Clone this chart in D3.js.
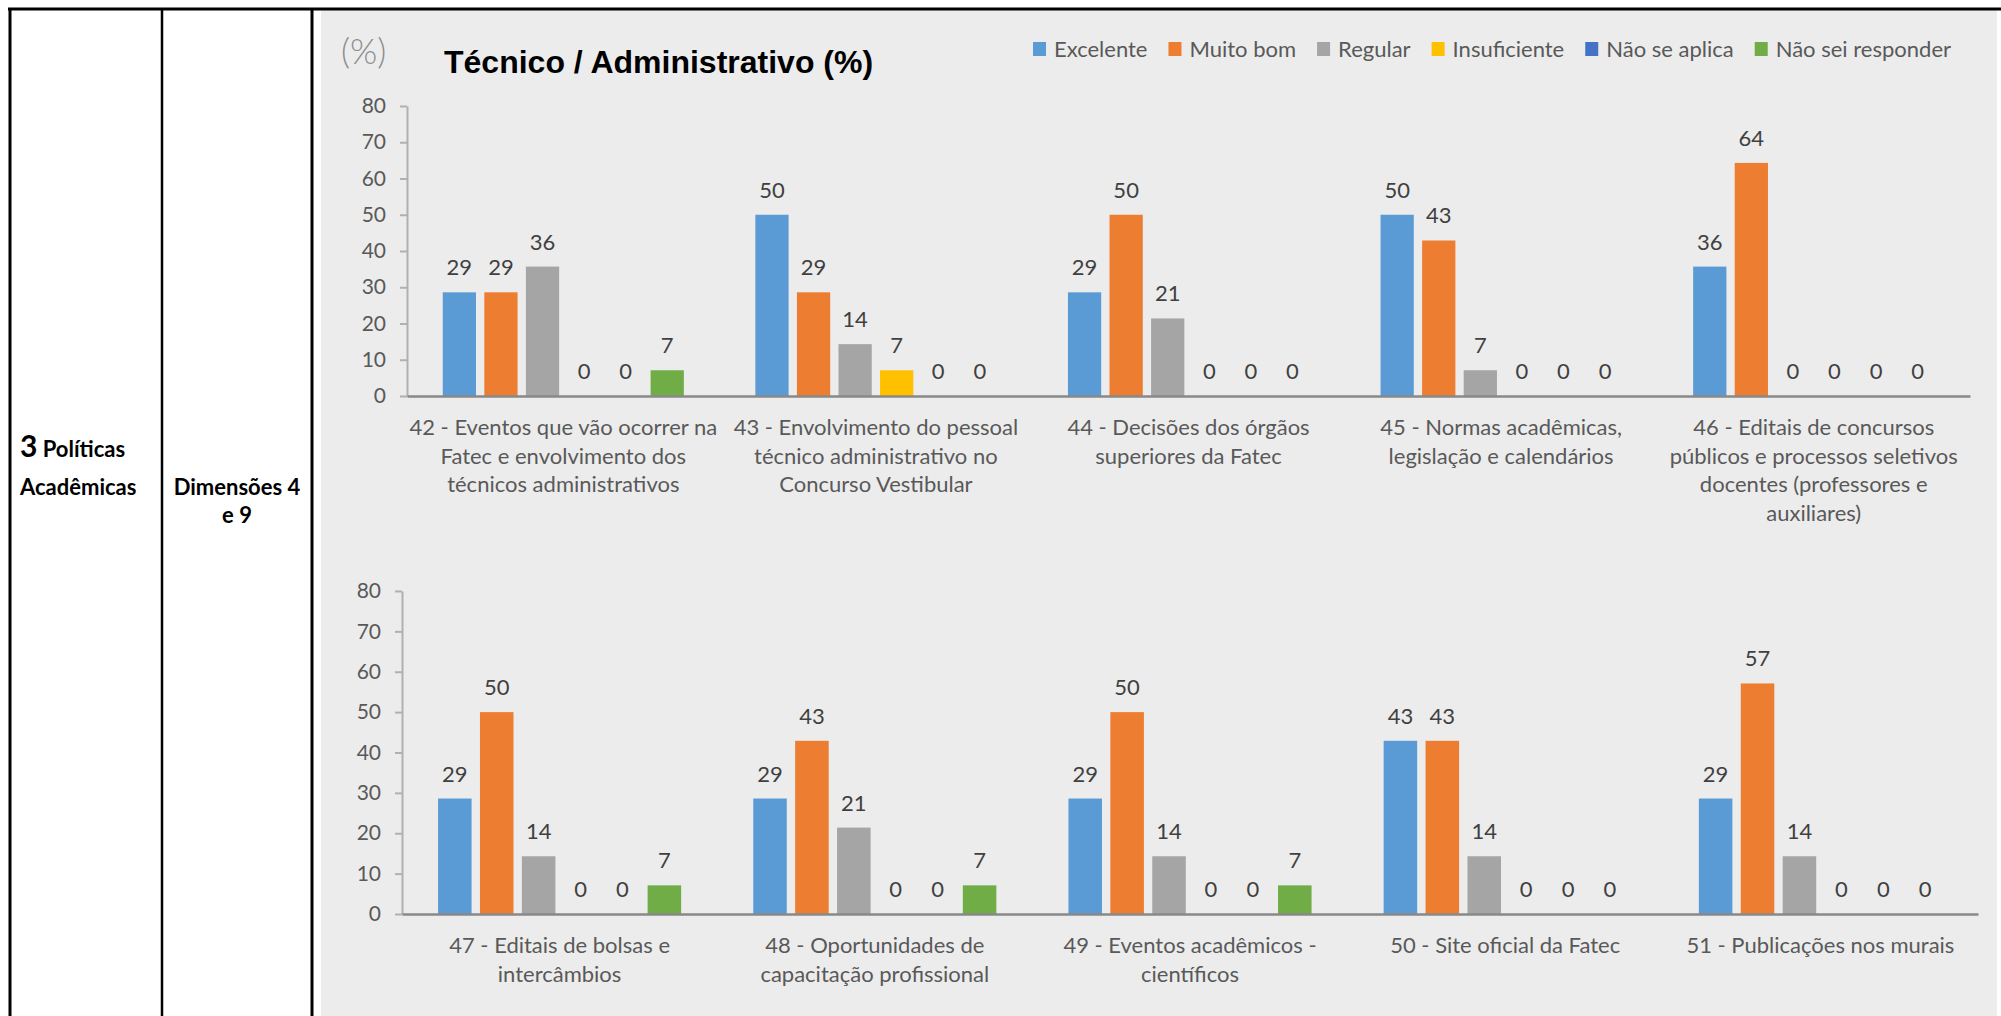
<!DOCTYPE html>
<html>
<head>
<meta charset="utf-8">
<script src="https://cdn.jsdelivr.net/npm/d3@7"></script>
<style>
  body { margin: 0; background: #fff; }
  svg text { font-family: Lato, "Open Sans", sans-serif; }
</style>
</head>
<body>
<svg id="chart" width="2001" height="1016"></svg>
<script>
// series names and colours (Office palette)
const seriesNames = ['Excelente', 'Muito bom', 'Regular', 'Insuficiente', 'Não se aplica', 'Não sei responder'];
const seriesColors = ['#5B9BD5', '#ED7D31', '#A5A5A5', '#FFC000', '#4472C4', '#70AD47'];
const yTicks = [0, 10, 20, 30, 40, 50, 60, 70, 80];

// top chart: questions 42 - 46
const topCategories = [
  ['42 - Eventos que vão ocorrer na', 'Fatec e envolvimento dos', 'técnicos administrativos'],
  ['43 - Envolvimento do pessoal', 'técnico administrativo no', 'Concurso Vestibular'],
  ['44 - Decisões dos órgãos', 'superiores da Fatec'],
  ['45 - Normas acadêmicas,', 'legislação e calendários'],
  ['46 - Editais de concursos', 'públicos e processos seletivos', 'docentes (professores e', 'auxiliares)']
];
const topExcelente   = [28.6, 50.0, 28.6, 50.0, 35.7];
const topMuitoBom    = [28.6, 28.6, 50.0, 42.9, 64.3];
const topRegular     = [35.7, 14.3, 21.4, 7.1, 0];
const topInsuficiente = [0, 7.1, 0, 0, 0];
const topNaoSeAplica = [0, 0, 0, 0, 0];
const topNaoSei      = [7.1, 0, 0, 0, 0];

// bottom chart: questions 47 - 51
const bottomCategories = [
  ['47 - Editais de bolsas e', 'intercâmbios'],
  ['48 - Oportunidades de', 'capacitação profissional'],
  ['49 - Eventos acadêmicos -', 'científicos'],
  ['50 - Site oficial da Fatec'],
  ['51 - Publicações nos murais']
];
const bottomExcelente   = [28.6, 28.6, 28.6, 42.9, 28.6];
const bottomMuitoBom    = [50.0, 42.9, 50.0, 42.9, 57.1];
const bottomRegular     = [14.3, 21.4, 14.3, 14.3, 14.3];
const bottomInsuficiente = [0, 0, 0, 0, 0];
const bottomNaoSeAplica = [0, 0, 0, 0, 0];
const bottomNaoSei      = [7.1, 7.1, 7.1, 0, 0];

const svg = d3.select('#chart');

// ---- table frame on the left ----
svg.append('rect').attr('x', 321).attr('y', 10).attr('width', 1676).attr('height', 1006).attr('fill', '#ececec');

const frame = svg.append('g').attr('stroke', '#000');
frame.append('line').attr('x1', 8).attr('x2', 2001).attr('y1', 9).attr('y2', 9).attr('stroke-width', 3);
frame.append('line').attr('x1', 10).attr('x2', 10).attr('y1', 8).attr('y2', 1016).attr('stroke-width', 3);
frame.append('line').attr('x1', 162).attr('x2', 162).attr('y1', 8).attr('y2', 1016).attr('stroke-width', 2.5);
frame.append('line').attr('x1', 312).attr('x2', 312).attr('y1', 8).attr('y2', 1016).attr('stroke-width', 3);

const cell1 = svg.append('text').attr('x', 20).attr('y', 457).attr('font-weight', 'bold').attr('fill', '#000');
cell1.append('tspan').attr('font-size', 30).text('3');
cell1.append('tspan').attr('font-size', 22).text(' Políticas');
svg.append('text').attr('x', 20).attr('y', 495).attr('font-weight', 'bold').attr('font-size', 22)
  .attr('fill', '#000').text('Acadêmicas');
svg.append('text').attr('x', 237).attr('y', 495).attr('text-anchor', 'middle').attr('font-weight', 'bold')
  .attr('font-size', 22).attr('fill', '#000').text('Dimensões 4');
svg.append('text').attr('x', 237).attr('y', 523).attr('text-anchor', 'middle').attr('font-weight', 'bold')
  .attr('font-size', 22).attr('fill', '#000').text('e 9');

// ---- header ----
svg.append('text').attr('x', 341).attr('y', 64).attr('font-size', 35).attr('fill', '#8c8c8c')
  .style('font-weight', 300).text('(%)');
svg.append('text').attr('x', 444).attr('y', 73).attr('font-size', 32).attr('font-weight', 'bold')
  .style('font-family', '"Liberation Sans", Arial, sans-serif').attr('fill', '#000')
  .text('Técnico / Administrativo  (%)');

const legend = svg.append('g').attr('transform', 'translate(1033,42)');
let lx = 0;
seriesNames.forEach((name, i) => {
  legend.append('rect').attr('x', lx).attr('y', 0).attr('width', 13).attr('height', 14).attr('fill', seriesColors[i]);
  const t = legend.append('text').attr('x', lx + 21).attr('y', 15).attr('font-size', 22)
    .attr('fill', '#595959').text(name);
  lx += 21 + t.node().getComputedTextLength() + 21;
});

// ---- one grouped bar panel ----
function drawPanel(categories, seriesValues, left, right, top, bottom) {
  const rows = categories.map((c, i) => ({
    key: i,
    lines: c,
    values: seriesValues.map((s, j) => ({ series: j, value: s[i] }))
  }));

  const x0 = d3.scaleBand().domain(rows.map(d => d.key)).range([left, right]).padding(0);
  const x1 = d3.scaleBand().domain(d3.range(seriesNames.length)).range([0, x0.bandwidth()])
    .paddingInner(0.2).paddingOuter(0.86);
  const y = d3.scaleLinear().domain([0, 80]).range([bottom, top]);

  const g = svg.append('g');

  const yAxis = g.append('g').attr('transform', `translate(${left},0)`)
    .call(d3.axisLeft(y).tickValues(yTicks).tickSize(7).tickSizeOuter(0).tickPadding(14));
  yAxis.select('.domain').attr('stroke', '#b0b0b0').attr('stroke-width', 2);
  yAxis.selectAll('.tick line').attr('stroke', '#b0b0b0').attr('stroke-width', 2);
  yAxis.selectAll('.tick text').attr('font-size', 21).attr('fill', '#595959')
    .style('font-family', 'Lato, sans-serif');

  const groups = g.selectAll('.grp').data(rows).enter().append('g')
    .attr('class', 'grp')
    .attr('transform', d => `translate(${x0(d.key)},0)`);

  groups.selectAll('rect').data(d => d.values).enter().append('rect')
    .attr('x', d => x1(d.series))
    .attr('y', d => y(d.value))
    .attr('width', x1.bandwidth())
    .attr('height', d => y(0) - y(d.value))
    .attr('fill', d => seriesColors[d.series]);

  groups.selectAll('text.val').data(d => d.values).enter().append('text')
    .attr('class', 'val')
    .attr('x', d => x1(d.series) + x1.bandwidth() / 2)
    .attr('y', d => y(d.value) - 17)
    .attr('text-anchor', 'middle')
    .attr('font-size', 22)
    .attr('fill', '#404040')
    .text(d => d3.format('.0f')(d.value));

  const xAxis = g.append('g').attr('transform', `translate(0,${bottom})`)
    .call(d3.axisBottom(x0).tickSize(0).tickSizeOuter(0).tickFormat(''));
  xAxis.select('.domain').attr('stroke', '#898989').attr('stroke-width', 2.5);

  const labels = xAxis.selectAll('.tick text')
    .attr('font-size', 22).attr('fill', '#595959').attr('y', 0)
    .style('font-family', 'Lato, sans-serif');
  labels.each(function (d) {
    const el = d3.select(this);
    rows[d].lines.forEach((line, k) => {
      el.append('tspan').attr('x', 0).attr('y', 39 + k * 28.7).text(line);
    });
  });
  labels.attr('dy', null);
}

drawPanel(topCategories,
  [topExcelente, topMuitoBom, topRegular, topInsuficiente, topNaoSeAplica, topNaoSei],
  407, 1970, 106, 396);
drawPanel(bottomCategories,
  [bottomExcelente, bottomMuitoBom, bottomRegular, bottomInsuficiente, bottomNaoSeAplica, bottomNaoSei],
  402, 1978, 591, 914);
</script>
</body>
</html>
